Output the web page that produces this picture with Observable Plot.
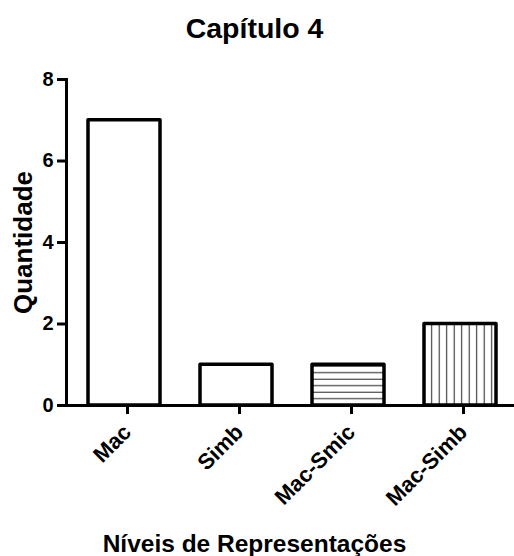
<!DOCTYPE html>
<html>
<head>
<meta charset="utf-8">
<script src="https://cdn.jsdelivr.net/npm/d3@7"></script>
<script src="https://cdn.jsdelivr.net/npm/@observablehq/plot@0.6"></script>
<style>
  html, body { margin: 0; padding: 0; background: #fff; }
  #chart svg { display: block; }
</style>
</head>
<body>
<div id="chart"></div>
<script>
// Data
const categories = ["Mac", "Simb", "Mac-Smic", "Mac-Simb"];
const values = [7, 1, 1, 2];
const yTicks = [0, 2, 4, 6, 8];
const titleText = "Capítulo 4";
const xLabel = "Níveis de Representações";
const yLabel = "Quantidade";

const data = categories.map((c, i) => ({category: c, value: values[i]}));

// Styles (fills per category)
const fillFor = {
  "Mac": "white",
  "Simb": "white",
  "Mac-Smic": "url(#hstripe)",
  "Mac-Simb": "url(#vstripe)"
};

const chart = Plot.plot({
  width: 514,
  height: 556,
  marginLeft: 66,
  marginRight: 0,
  marginTop: 79,
  marginBottom: 151,
  style: {fontFamily: "'Liberation Sans', Arial, sans-serif", fontWeight: "bold", color: "black", background: "white"},
  x: {domain: categories, range: [66, 518], paddingInner: 0.357, paddingOuter: 0.184},
  y: {domain: [0, 8]},
  color: {type: "identity"},
  marks: [
    Plot.barY(data, {
      x: "category", y: "value",
      fill: d => fillFor[d.category],
      stroke: "black", strokeWidth: 3.5, strokeLinejoin: "round"
    }),
    Plot.frame({anchor: "left", stroke: "black", strokeWidth: 3}),
    Plot.frame({anchor: "bottom", stroke: "black", strokeWidth: 3}),
    Plot.axisY({ticks: yTicks, tickSize: 9, tickPadding: 4, fontSize: 20, strokeWidth: 3, label: null}),
    Plot.axisX({tickSize: 9, tickPadding: 14, dx: 3, tickRotate: -45, fontSize: 22, strokeWidth: 3, label: null}),
    Plot.text([titleText], {text: d => d, frameAnchor: "top", lineAnchor: "bottom", dx: -36, dy: -42, fontSize: 28.5, fontWeight: "bold"}),
    Plot.text([xLabel], {text: d => d, frameAnchor: "bottom", lineAnchor: "bottom", dx: -36, dy: 146, fontSize: 24.5, fontWeight: "bold"}),
    Plot.text([yLabel], {text: d => d, frameAnchor: "left", textAnchor: "middle", rotate: -90, dx: -43, fontSize: 26, fontWeight: "bold"})
  ]
});

// Stripe patterns for hatched bars
const svg = chart.tagName.toLowerCase() === "svg" ? chart : chart.querySelector("svg");
const defs = d3.select(svg).insert("defs", ":first-child");
const h = defs.append("pattern").attr("id", "hstripe").attr("patternUnits", "userSpaceOnUse")
  .attr("width", 10).attr("height", 6.5);
h.append("rect").attr("width", 10).attr("height", 6.5).attr("fill", "white");
h.append("line").attr("x1", 0).attr("x2", 10).attr("y1", 2.2).attr("y2", 2.2)
  .attr("stroke", "#333").attr("stroke-width", 1.1);
const v = defs.append("pattern").attr("id", "vstripe").attr("patternUnits", "userSpaceOnUse")
  .attr("width", 7.5).attr("height", 10);
v.append("rect").attr("width", 7.5).attr("height", 10).attr("fill", "white");
v.append("line").attr("x1", 4.2).attr("x2", 4.2).attr("y1", 0).attr("y2", 10)
  .attr("stroke", "#333").attr("stroke-width", 1.1);

document.getElementById("chart").appendChild(chart);
</script>
</body>
</html>
